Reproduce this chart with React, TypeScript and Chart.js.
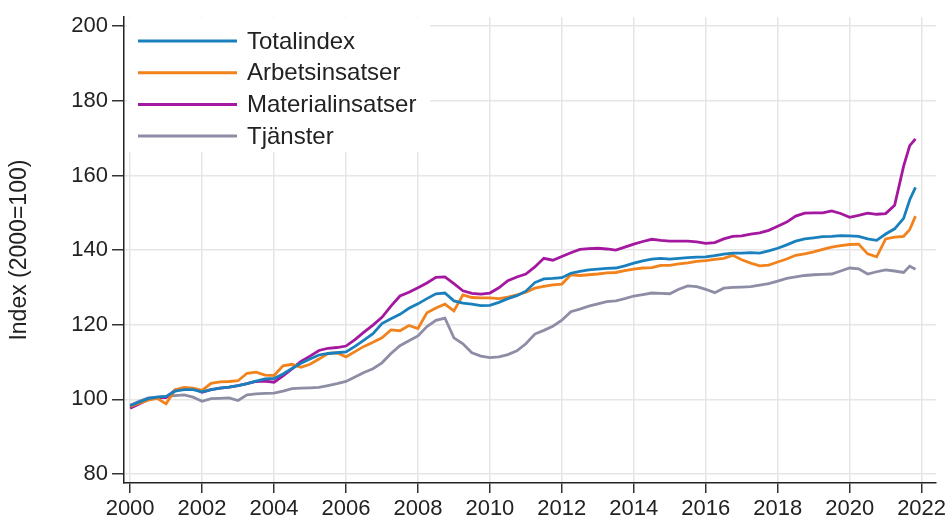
import React, { useEffect, useRef } from "react";
import { Chart, registerables } from "chart.js";

Chart.register(...registerables);

const years = [
  2000, 2000.25, 2000.5, 2000.75,
  2001, 2001.25, 2001.5, 2001.75,
  2002, 2002.25, 2002.5, 2002.75,
  2003, 2003.25, 2003.5, 2003.75,
  2004, 2004.25, 2004.5, 2004.75,
  2005, 2005.25, 2005.5, 2005.75,
  2006, 2006.25, 2006.5, 2006.75,
  2007, 2007.25, 2007.5, 2007.75,
  2008, 2008.25, 2008.5, 2008.75,
  2009, 2009.25, 2009.5, 2009.75,
  2010, 2010.25, 2010.5, 2010.75,
  2011, 2011.25, 2011.5, 2011.75,
  2012, 2012.25, 2012.5, 2012.75,
  2013, 2013.25, 2013.5, 2013.75,
  2014, 2014.25, 2014.5, 2014.75,
  2015, 2015.25, 2015.5, 2015.75,
  2016, 2016.25, 2016.5, 2016.75,
  2017, 2017.25, 2017.5, 2017.75,
  2018, 2018.25, 2018.5, 2018.75,
  2019, 2019.25, 2019.5, 2019.75,
  2020, 2020.25, 2020.5, 2020.75,
  2021, 2021.25, 2021.5, 2021.67, 2021.83,
];

const totalindex = [
  98.3, 99.3, 100.2, 100.6,
  100.8, 102.2, 102.6, 102.6,
  102.0, 102.6, 103.0, 103.3,
  103.7, 104.2, 104.9, 105.5,
  105.6, 106.8, 108.3, 109.7,
  110.8, 111.9, 112.3, 112.5,
  112.7, 114.2, 115.9, 117.6,
  120.3, 121.6, 122.8, 124.4,
  125.6, 127.0, 128.3, 128.5,
  126.4, 125.8, 125.5, 125.1,
  125.2, 126.0, 127.0, 127.8,
  129.0, 131.3, 132.3, 132.4,
  132.6, 133.8, 134.3, 134.7,
  134.9, 135.1, 135.2, 135.8,
  136.5, 137.1, 137.6, 137.8,
  137.6, 137.8, 138.0, 138.1,
  138.2, 138.5, 138.9, 139.2,
  139.2, 139.3, 139.2, 139.8,
  140.5, 141.4, 142.4, 143.0,
  143.3, 143.6, 143.7, 143.9,
  143.8, 143.7, 143.0, 142.6,
  144.3, 145.7, 148.5, 153.5, 156.8,
];

const arbetsinsatser = [
  98.1, 99.0, 99.8, 100.3,
  98.8, 102.6, 103.2, 103.0,
  102.4, 104.3, 104.7, 104.8,
  105.0, 107.0, 107.3, 106.5,
  106.4, 109.0, 109.4, 108.6,
  109.4, 110.8, 112.3, 112.5,
  111.4, 112.8, 114.2, 115.3,
  116.5, 118.6, 118.4, 119.8,
  119.0, 123.2, 124.5, 125.5,
  123.7, 128.0, 127.3, 127.2,
  127.2, 127.0, 127.4, 128.0,
  128.7, 129.8, 130.3, 130.7,
  130.9, 133.4, 133.2, 133.4,
  133.6, 133.9, 134.0, 134.5,
  134.9, 135.2, 135.3, 135.9,
  135.9, 136.3, 136.6, 137.0,
  137.2, 137.5, 137.8, 138.6,
  137.4, 136.5, 135.8, 136.0,
  136.8, 137.6, 138.6, 139.0,
  139.5, 140.2, 140.8, 141.2,
  141.5, 141.6, 139.0, 138.2,
  143.0, 143.5, 143.7, 145.5, 149.1,
];

const materialinsatser = [
  97.6, 98.8, 100.0, 100.5,
  100.5, 102.5, 102.9, 102.9,
  101.9, 102.6, 103.0, 103.3,
  103.7, 104.2, 104.8, 104.9,
  104.6, 106.3, 108.2, 110.2,
  111.6, 113.1, 113.7, 113.9,
  114.3, 116.0, 118.0, 119.9,
  122.0, 125.0, 127.7, 128.7,
  129.9, 131.2, 132.7, 132.8,
  131.0, 129.1, 128.4, 128.2,
  128.5, 129.9, 131.8, 132.8,
  133.6, 135.5, 137.8, 137.3,
  138.3, 139.3, 140.2, 140.4,
  140.5, 140.3, 140.0, 140.8,
  141.6, 142.3, 142.9, 142.6,
  142.4, 142.4, 142.4, 142.2,
  141.8, 142.0, 143.0, 143.7,
  143.8, 144.3, 144.6, 145.3,
  146.4, 147.5, 149.1, 149.9,
  150.0, 150.0, 150.5, 149.8,
  148.8, 149.3, 149.9, 149.6,
  149.8, 152.0, 162.5, 168.0, 169.8,
];

const tjanster = [
  98.4, 99.5, 100.4, 100.6,
  100.8, 101.0, 101.2, 100.6,
  99.5, 100.2, 100.3, 100.4,
  99.7, 101.2, 101.5, 101.6,
  101.7, 102.2, 102.9, 103.0,
  103.1, 103.2, 103.7, 104.2,
  104.8, 106.0, 107.2, 108.2,
  109.8, 112.3, 114.4, 115.7,
  117.0, 119.5, 121.2, 121.8,
  116.5, 114.9, 112.5, 111.6,
  111.2, 111.4, 112.0, 113.0,
  114.9, 117.5, 118.5, 119.6,
  121.2, 123.5, 124.2, 125.0,
  125.6, 126.2, 126.4, 127.0,
  127.7, 128.1, 128.5, 128.4,
  128.3, 129.5, 130.4, 130.2,
  129.5, 128.6, 129.8, 130.0,
  130.1, 130.2, 130.6, 131.0,
  131.7, 132.4, 132.8, 133.2,
  133.4, 133.5, 133.6, 134.4,
  135.2, 135.0, 133.6, 134.2,
  134.7, 134.4, 134.0, 135.7, 134.9,
];

const seriesLabels = ["Totalindex", "Arbetsinsatser", "Materialinsatser", "Tjänster"];
const seriesValues = [totalindex, arbetsinsatser, materialinsatser, tjanster];
const seriesColors = ["#1a80bd", "#f2821c", "#a4179f", "#8e8da6"];

const xTicks = [2000, 2002, 2004, 2006, 2008, 2010, 2012, 2014, 2016, 2018, 2020, 2022];
const yTicks = [80, 100, 120, 140, 160, 180, 200];
const yTitle = "Index (2000=100)";

const FONT = "'Liberation Sans', Arial, sans-serif";

const legendPlugin = {
  id: "insideLegend",
  afterDraw(chart: any) {
    const ctx = chart.ctx;
    const ds = chart.data.datasets;
    ctx.save();
    ctx.fillStyle = "#ffffff";
    ctx.fillRect(127, 18, 303, 134);
    ctx.font = `24px ${FONT}`;
    ctx.textBaseline = "middle";
    ctx.textAlign = "left";
    ds.forEach((d: any, i: number) => {
      const y = 41 + i * 31.7;
      ctx.strokeStyle = d.borderColor;
      ctx.lineWidth = 3;
      ctx.lineCap = "butt";
      ctx.beginPath();
      ctx.moveTo(138, y);
      ctx.lineTo(237, y);
      ctx.stroke();
      ctx.fillStyle = "#222222";
      ctx.fillText(d.label, 247, y + 1);
    });
    ctx.restore();
  },
};

export default function App() {
  const ref = useRef<HTMLCanvasElement | null>(null);
  useEffect(() => {
    if (!ref.current) return;
    const chart = new Chart(ref.current, {
      type: "line",
      data: {
        datasets: seriesLabels.map((label, i) => ({
          label,
          data: years.map((x, j) => ({ x, y: seriesValues[i][j] })),
          borderColor: seriesColors[i],
          backgroundColor: seriesColors[i],
          borderWidth: 2.8,
          pointRadius: 0,
          tension: 0,
          fill: false,
        })),
      },
      options: {
        animation: false,
        responsive: false,
        maintainAspectRatio: false,
        layout: { padding: { top: 15, right: 15, left: 0, bottom: 0 } },
        plugins: {
          legend: { display: false },
          tooltip: { enabled: false },
        },
        scales: {
          x: {
            type: "linear",
            min: 1999.83,
            max: 2022.4,
            afterBuildTicks: (s: any) => {
              s.ticks = xTicks.map((v) => ({ value: v }));
            },
            afterFit: (s: any) => {
              s.height = 44;
            },
            grid: {
              color: "#e6e6e6",
              lineWidth: 1.5,
              tickColor: "#333333",
              tickLength: 10,
              drawTicks: true,
            },
            border: { color: "#222222", width: 1.5 },
            ticks: {
              color: "#222222",
              font: { family: FONT, size: 22 },
              padding: 3,
              maxRotation: 0,
              autoSkip: false,
              callback: (v: any) => String(v),
            },
          },
          y: {
            type: "linear",
            min: 77.6,
            max: 202.4,
            afterBuildTicks: (s: any) => {
              s.ticks = yTicks.map((v) => ({ value: v }));
            },
            afterFit: (s: any) => {
              s.width = 124;
            },
            grid: {
              color: "#e6e6e6",
              lineWidth: 1.5,
              tickColor: "#333333",
              tickLength: 12,
            },
            border: { color: "#222222", width: 1.5 },
            ticks: {
              color: "#222222",
              font: { family: FONT, size: 22 },
              padding: 4,
              callback: (v: any) => String(v),
            },
            title: {
              display: true,
              text: yTitle,
              color: "#222222",
              font: { family: FONT, size: 23 },
              padding: { top: 6, bottom: 0 },
            },
          },
        },
      },
      plugins: [legendPlugin],
    });
    return () => chart.destroy();
  }, []);
  return (
    <div style={{ position: "fixed", left: 0, top: 0, width: 951, height: 527, background: "#ffffff" }}>
      <canvas ref={ref} width={951} height={527} style={{ display: "block", width: 951, height: 527 }} />
    </div>
  );
}
